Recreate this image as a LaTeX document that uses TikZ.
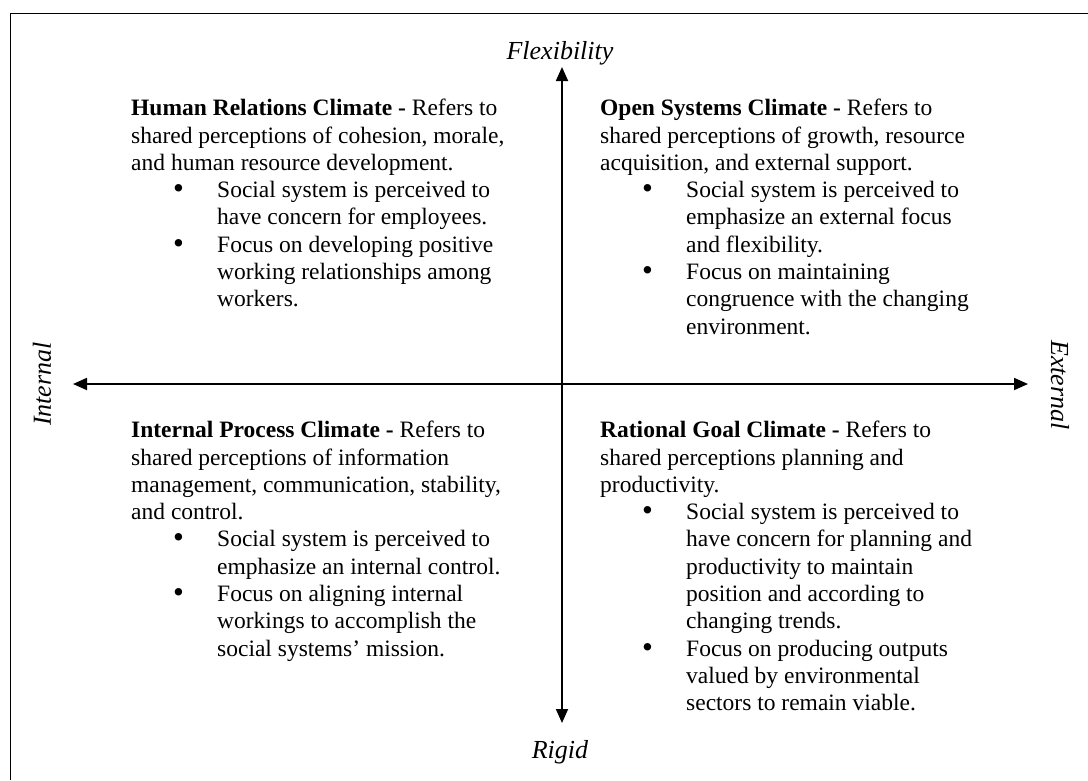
\documentclass[tikz,border=0pt]{standalone}
\usepackage{fontspec}
\setmainfont{Liberation Serif}
\usetikzlibrary{arrows.meta}
\newcommand{\bul}{\hspace*{42pt}\makebox[44pt][l]{\raisebox{-1pt}{\fontsize{31}{31}\selectfont\textbullet}}}
\newcommand{\cont}{\hspace*{86pt}}
\begin{document}
\begin{tikzpicture}[x=1pt,y=-1pt,
    climate/.style={anchor=north west,align=left,inner sep=0pt,font=\fontsize{23.5}{27.3}\selectfont},
    axislabel/.style={inner sep=0pt,font=\fontsize{26}{30}\selectfont\itshape},
    axis/.style={{Triangle[length=14pt,width=12pt]}-{Triangle[length=14pt,width=12pt]},line width=1.8pt}]
  \useasboundingbox (0,0) rectangle (1088,780);
  \draw[line width=1.5pt] (10.5,780) -- (10.5,13.5) -- (1088,13.5);
  \draw
    (562,67) coordinate (top)
    (562,723) coordinate (bottom)
    (73,384) coordinate (west)
    (1028,384) coordinate (east);
  \node[axislabel,anchor=base] (flex) at (560,59) {Flexibility};
  \node[axislabel,anchor=base] (rigid) at (560,758) {Rigid};
  \node[axislabel,rotate=90] (internal) at (42,384) {Internal};
  \node[axislabel,rotate=-90] (external) at (1060,385) {External};
  \begin{scope}[axis]
    \draw (top) to (bottom);
    \draw (west) to (east);
  \end{scope}
  \node[climate] (human) at (131,99) {\textbf{Human Relations Climate -} Refers to\\
    shared perceptions of cohesion, morale,\\
    and human resource development.\\
    \bul Social system is perceived to\\
    \cont have concern for employees.\\
    \bul Focus on developing positive\\
    \cont working relationships among\\
    \cont workers.};
  \node[climate] (open) at (600,99) {\textbf{Open Systems Climate -} Refers to\\
    shared perceptions of growth, resource\\
    acquisition, and external support.\\
    \bul Social system is perceived to\\
    \cont emphasize an external focus\\
    \cont and flexibility.\\
    \bul Focus on maintaining\\
    \cont congruence with the changing\\
    \cont environment.};
  \node[climate] (process) at (131,421) {\textbf{Internal Process Climate -} Refers to\\
    shared perceptions of information\\
    management, communication, stability,\\
    and control.\\
    \bul Social system is perceived to\\
    \cont emphasize an internal control.\\
    \bul Focus on aligning internal\\
    \cont workings to accomplish the\\
    \cont social systems’ mission.};
  \node[climate] (goal) at (600,421) {\textbf{Rational Goal Climate -} Refers to\\
    shared perceptions planning and\\
    productivity.\\
    \bul Social system is perceived to\\
    \cont have concern for planning and\\
    \cont productivity to maintain\\
    \cont position and according to\\
    \cont changing trends.\\
    \bul Focus on producing outputs\\
    \cont valued by environmental\\
    \cont sectors to remain viable.};
\end{tikzpicture}
\end{document}
